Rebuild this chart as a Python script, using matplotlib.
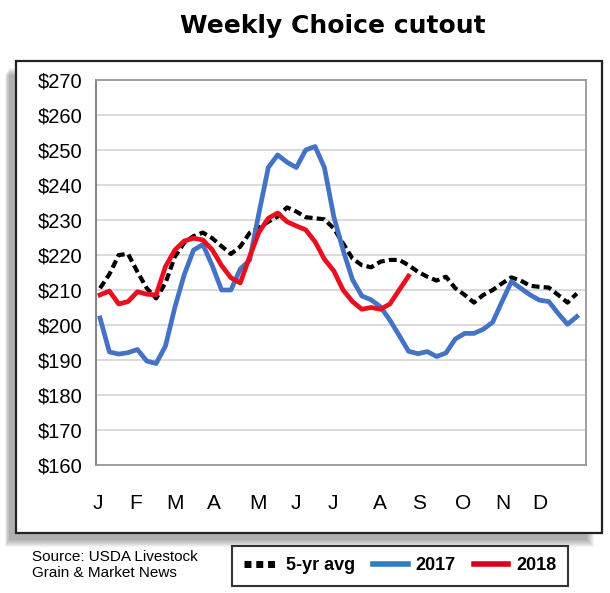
import matplotlib
matplotlib.use('Agg')
import matplotlib.pyplot as plt
from matplotlib.lines import Line2D
from matplotlib.patches import Rectangle
import numpy as np

# Weekly Choice cutout, $/cwt, one value per week
avg_5yr = [210.5, 214.5, 220.0, 220.3, 215.2, 210.5, 207.6, 212.0, 219.5, 223.5,
           225.4, 226.4, 224.8, 222.5, 220.3, 222.4, 226.3, 227.8, 229.5, 231.0,
           233.6, 232.4, 230.8, 230.5, 230.2, 227.6, 223.3, 219.0, 217.1, 216.5,
           218.1, 218.6, 218.6, 217.1, 215.2, 213.8, 212.7, 213.8, 210.5, 208.6,
           206.4, 208.6, 210.0, 211.9, 213.6, 212.7, 211.2, 210.9, 210.7, 208.6,
           206.4, 209.0]
y2017 = [202.0, 192.3, 191.7, 192.1, 193.0, 189.7, 189.0, 194.0, 205.0, 214.3,
         221.4, 223.0, 217.0, 210.0, 210.0, 216.0, 218.5, 232.0, 245.0, 248.6,
         246.5, 245.0, 250.0, 251.0, 245.0, 231.0, 221.4, 213.0, 208.3, 207.2,
         205.2, 201.4, 197.0, 192.5, 191.8, 192.4, 191.0, 192.0, 196.0, 197.6,
         197.6, 198.8, 200.8, 206.7, 212.4, 210.5, 208.6, 207.1, 206.7, 203.3,
         200.2, 202.4]
y2018 = [208.6, 209.7, 206.0, 206.7, 209.5, 208.8, 208.6, 216.7, 221.4, 224.0,
         224.8, 224.3, 221.5, 217.0, 213.5, 212.0, 219.5, 226.5, 230.5, 232.0,
         229.5, 228.3, 227.2, 223.8, 218.8, 215.5, 210.0, 206.7, 204.5, 205.0,
         204.5, 206.0, 210.0, 214.0]

month_labels = ['J', 'F', 'M', 'A', 'M', 'J', 'J', 'A', 'S', 'O', 'N', 'D']
month_pos = [-0.2, 3.8, 8.0, 12.2, 16.85, 21.0, 24.9, 29.9, 34.1, 38.8, 43.1, 47.0]
y_ticks = list(range(160, 271, 10))

W, H = 610, 593
fig = plt.figure(figsize=(W / 100, H / 100), dpi=100)
plt.rcParams['font.family'] = ['Liberation Sans', 'DejaVu Sans']

# shadow + outer frame
bx0, by0, bx1, by1 = 16, 61, 602, 533
for k in range(8):
    d = 2 + k * 1.5
    fig.patches.append(Rectangle(((bx0 - 6 - d * 0.4) / W, 1 - (by1 + 6 + d * 0.6) / H),
                                 (bx1 - bx0 - 10 + d) / W, (by1 - by0) / H,
                                 transform=fig.transFigure, facecolor='black',
                                 edgecolor='none', alpha=0.045, zorder=0))
fig.patches.append(Rectangle((bx0 / W, 1 - by1 / H), (bx1 - bx0) / W, (by1 - by0) / H,
                             transform=fig.transFigure, facecolor='white',
                             edgecolor='#222222', linewidth=1.6, zorder=1))

ax = fig.add_axes([96 / W, 1 - 465 / H, 490 / W, 385 / H], zorder=2)
weeks = np.arange(len(avg_5yr))
ax.plot(weeks, avg_5yr, color='black', lw=3.0, dashes=(1.9, 1.0),
        dash_capstyle='butt', zorder=3)
ax.plot(weeks[:len(y2017)], y2017, color='#4472C4', lw=3.4, zorder=4)
ax.plot(weeks[:len(y2018)], y2018, color='#E8101E', lw=3.4, zorder=5)

ax.set_xlim(-0.43, 51.98)
ax.set_ylim(160, 270)
ax.set_yticks(y_ticks)
ax.set_yticklabels(['$%d' % v for v in y_ticks], fontsize=14.5)
ax.set_xticks(month_pos)
ax.set_xticklabels(month_labels, fontsize=15)
ax.tick_params(axis='both', length=0)
ax.tick_params(axis='y', pad=10)
ax.tick_params(axis='x', pad=21)
ax.grid(axis='y', color='#d4d4d4', lw=1.2)
ax.set_axisbelow(True)
for s in ax.spines.values():
    s.set_color('#999999')
    s.set_linewidth(1.3)
ax.spines['left'].set_color('#777777')

fig.text(333 / W, 1 - 26 / H, 'Weekly Choice cutout', ha='center', va='center',
         fontsize=18, fontweight='heavy', family='DejaVu Sans')

fig.text(32 / W, 1 - 565 / H, 'Source: USDA Livestock\nGrain & Market News',
         ha='left', va='center', fontsize=11, linespacing=1.25)

handles = [Line2D([], [], color='black', lw=5, linestyle=(0, (1, 0.7))),
           Line2D([], [], color='#2E7EC0', lw=4),
           Line2D([], [], color='#D9001B', lw=4)]
leg = fig.legend(handles, ['5-yr avg', '2017', '2018'], loc='center',
                 bbox_to_anchor=(400 / W, 1 - 566 / H), ncol=3, frameon=True,
                 fancybox=False, edgecolor='black', handlelength=1.9,
                 columnspacing=1.0, handletextpad=0.45, borderpad=0.65,
                 prop={'size': 13, 'weight': 'bold'})
leg.get_frame().set_linewidth(1.5)

fig.savefig('out.png', dpi=100)
